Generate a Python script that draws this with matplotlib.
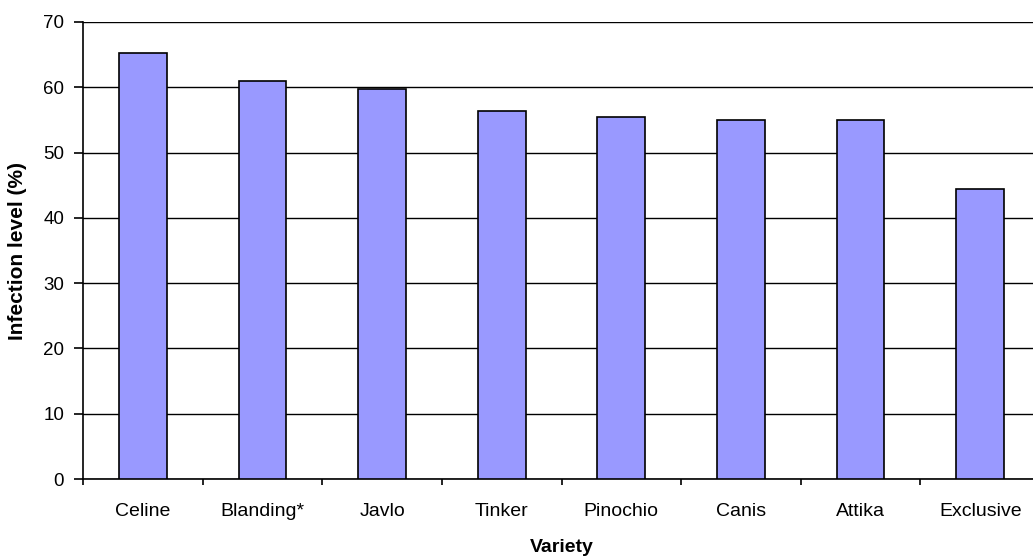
import matplotlib.pyplot as plt
import numpy as np

plt.rcParams["font.family"] = ["Liberation Sans", "DejaVu Sans"]

varieties = ["Celine", "Blanding*", "Javlo", "Tinker", "Pinochio", "Canis", "Attika", "Exclusive"]
infection = [65.2, 60.9, 59.7, 56.3, 55.4, 55.0, 55.0, 44.4]

fig = plt.figure(figsize=(10.33, 5.6), dpi=100)
# the category axis runs a little past the right edge of the figure
ax = fig.add_axes([83 / 1033, 1 - 479 / 560, 957 / 1033, 457 / 560])

x = np.arange(len(varieties))
ax.bar(x, infection, width=0.4, color="#9999ff", edgecolor="black", linewidth=1.2, zorder=3)

ax.set_ylim(0, 70)
ax.set_xlim(-0.5, len(varieties) - 0.5)
ax.set_yticks(range(0, 71, 10))
ax.yaxis.grid(True, color="black", linewidth=1.0, zorder=0)

ax.set_xticks(x)
ax.set_xticklabels(varieties, fontsize=14)
ax.tick_params(axis="x", length=0, pad=17)
ax.set_xticks(np.arange(len(varieties) + 1) - 0.5, minor=True)
ax.tick_params(axis="x", which="minor", length=4.5, width=1.2, direction="out")
ax.tick_params(axis="y", length=6.5, width=1.2, direction="out", labelsize=13.5, pad=7)

for side in ["top", "right"]:
    ax.spines[side].set_visible(False)
for side in ["left", "bottom"]:
    ax.spines[side].set_linewidth(1.2)

ax.set_xlabel("Variety", fontsize=14, fontweight="bold", labelpad=14)
ax.set_ylabel("Infection level (%)", fontsize=15, fontweight="bold", labelpad=12)

fig.savefig("out.png", dpi=100)
